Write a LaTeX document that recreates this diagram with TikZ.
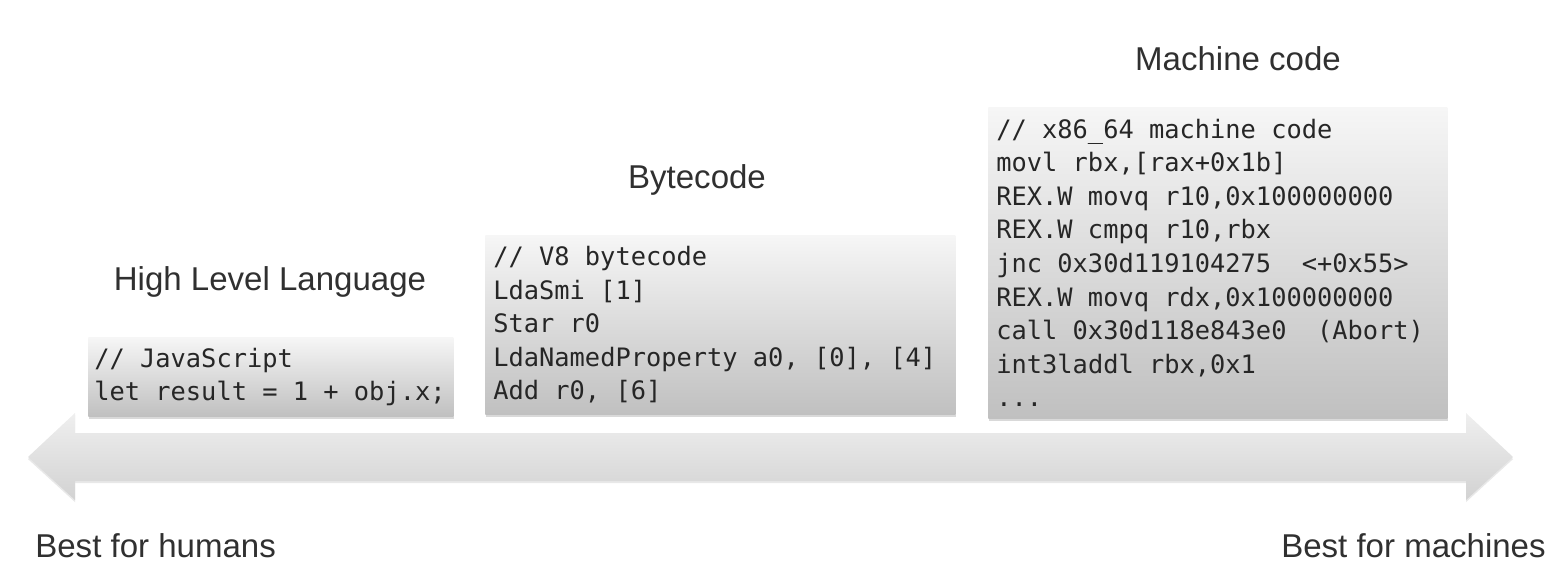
\documentclass[tikz,border=0pt]{standalone}
\usepackage{fontspec}
\setmainfont{Liberation Sans}
\newfontfamily\codefont{DejaVu Sans Mono}
\usepackage{tikz}
\usetikzlibrary{positioning, shadows}
\definecolor{labelgray}{HTML}{303030}
\definecolor{boxtop}{HTML}{F6F6F6}
\definecolor{boxbottom}{HTML}{C0C0C0}
\definecolor{arrowtop}{HTML}{EFEFEF}
\definecolor{arrowbottom}{HTML}{D2D2D2}

\tikzset{
  heading/.style={text=labelgray, font=\fontsize{18.8pt}{22pt}\selectfont, inner sep=0pt},
  codebox/.style={anchor=north west, top color=boxtop, bottom color=boxbottom,
    drop shadow={shadow xshift=0.4pt, shadow yshift=-1.6pt, opacity=0.3},
    inner xsep=0.16cm, inner ysep=0pt, align=left, text=black!85,
    font=\codefont\fontsize{14.44pt}{19.1pt}\selectfont,
    % fixed-width spaces (align=left would shrink them)
    execute at begin node={\spaceskip=8.69pt\xspaceskip=8.69pt}},
}

\begin{document}
\begin{tikzpicture}[x=0.02cm, y=-0.02cm]
  \useasboundingbox (0,0) rectangle (1564,576);

  % Doppelpfeil
  \path[top color=arrowtop, bottom color=arrowbottom,
        drop shadow={shadow xshift=0pt, shadow yshift=-1.2pt, opacity=0.18}]
    (28,457) -- (75,413) -- (75,433) -- (1466,433) -- (1466,413) -- (1513,457)
    -- (1466,500) -- (1466,481) -- (75,481) -- (75,500) -- cycle;

  % Code boxes
  \node[codebox, inner xsep=0.12cm, minimum width=7.3cm, minimum height=1.58cm,
        text width=7.06cm]
    (jsbox) at (88,337) {// JavaScript\\let result = 1 + obj.x;};
  \node[codebox, minimum width=9.4cm, minimum height=3.58cm, text width=9.08cm]
    (bcbox) at (485,235) {// V8 bytecode\\LdaSmi [1]\\Star r0\\
      LdaNamedProperty a0, [0], [4]\\Add r0, [6]};
  \node[codebox, minimum width=9.18cm, minimum height=6.22cm, text width=8.86cm]
    (mcbox) at (988,107) {// x86\_64 machine code\\movl rbx,[rax+0x1b]\\
      REX.W movq r10,0x100000000\\REX.W cmpq r10,rbx\\
      jnc 0x30d119104275~~<+0x55>\\REX.W movq rdx,0x100000000\\
      call 0x30d118e843e0~~(Abort)\\int3laddl rbx,0x1\\...};

  % Headings
  \node[heading, anchor=base] (hll) at (270,290) {High Level Language};
  \node[heading, anchor=base] (bytecode) at (697,188) {Bytecode};
  \node[heading, anchor=base] (machine) at (1238,70) {Machine code};

  \node[heading, anchor=base west] (humans) at (35,557) {Best for humans};
  \node[heading, anchor=base east] (machines) at (1546,557) {Best for machines};
\end{tikzpicture}
\end{document}
